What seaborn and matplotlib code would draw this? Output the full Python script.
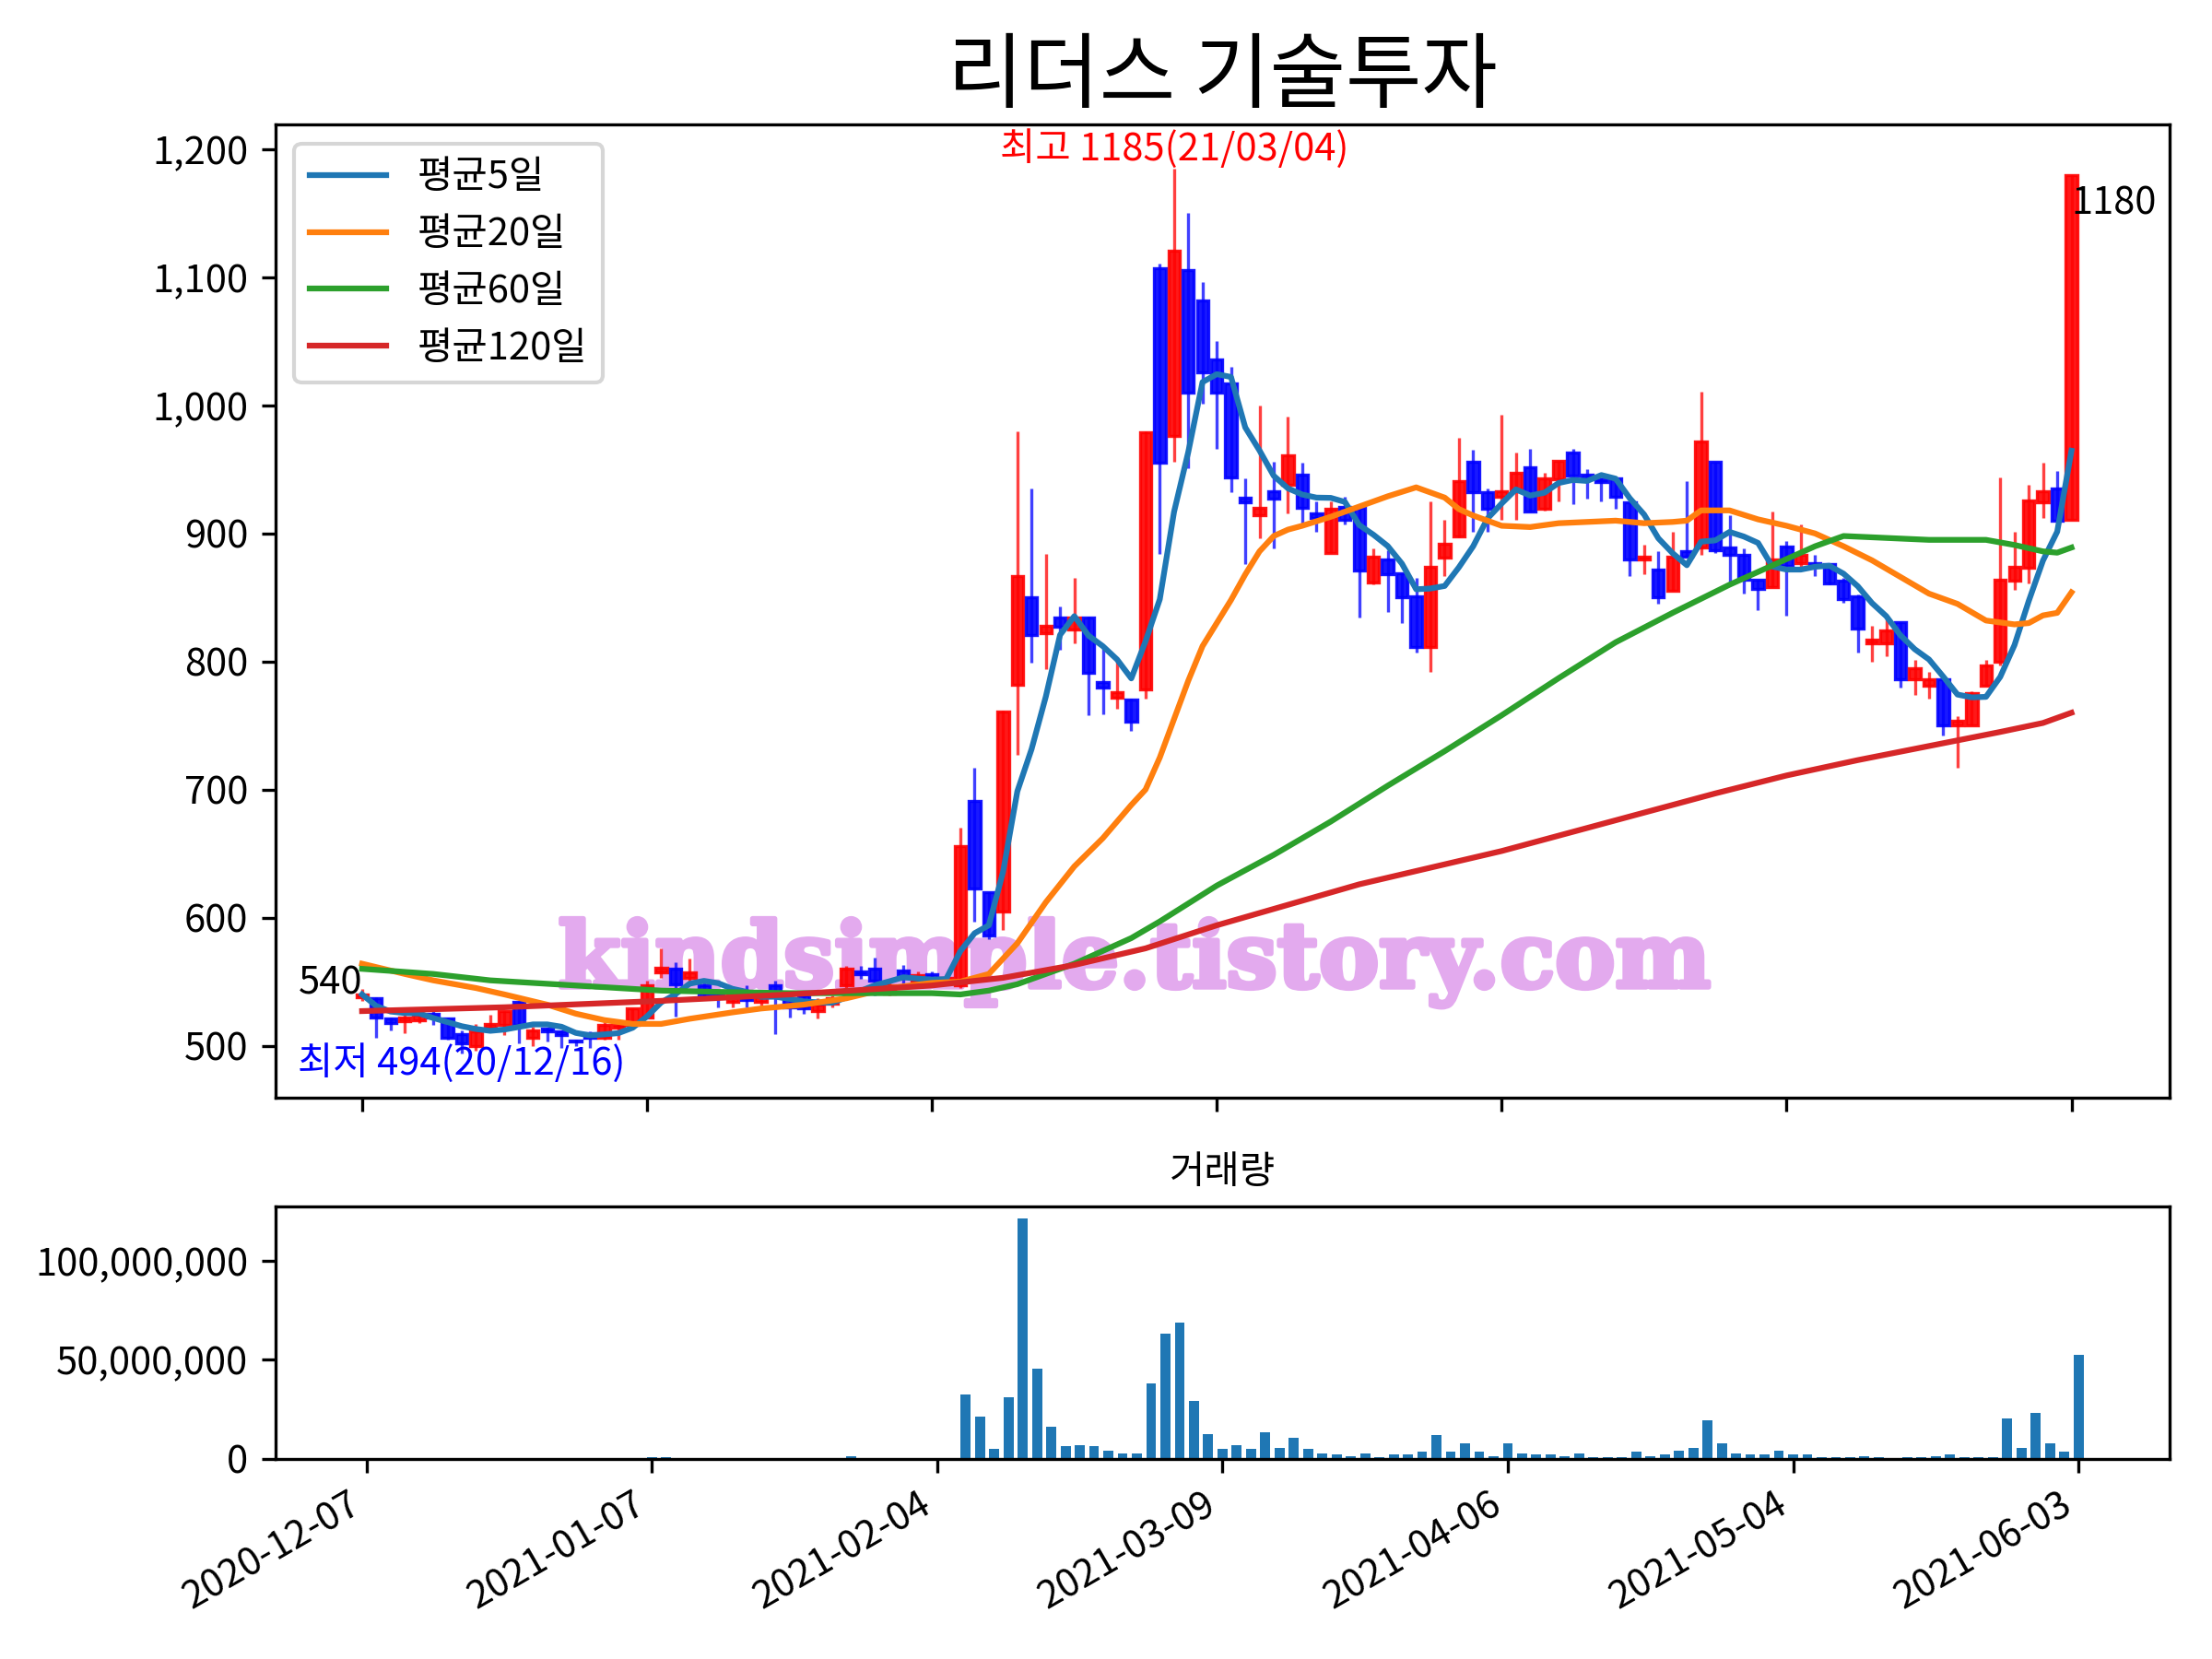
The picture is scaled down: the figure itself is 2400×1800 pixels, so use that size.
import numpy as np
import pandas as pd
import matplotlib
matplotlib.use("Agg")
import matplotlib.pyplot as plt
import matplotlib.patheffects as pe
import seaborn as sns
from matplotlib.ticker import FuncFormatter, MultipleLocator

plt.rcParams['font.family'] = ['Noto Sans CJK KR', 'DejaVu Sans']
plt.rcParams['axes.unicode_minus'] = False

# ---------------- data ----------------
title = "리더스 기술투자"
vol_title = "거래량"
tick_pos = [0, 20, 40, 60, 80, 100, 120]
tick_dates = ["2020-12-07", "2021-01-07", "2021-02-04", "2021-03-09",
              "2021-04-06", "2021-05-04", "2021-06-03"]

opens = [538, 537, 521, 519, 520, 525, 521, 509, 500, 514, 516, 534, 506, 513, 511, 504, 510, 506, 514, 516,
         522, 557, 560, 553, 547, 540, 534, 540, 534, 547, 537, 539, 527, 533, 547, 558, 560, 541, 559, 550,
         556, 550, 547, 691, 620, 605, 782, 850, 822, 834, 825, 834, 784, 772, 770, 778, 1107, 976, 1106, 1082,
         1036, 1017, 928, 914, 933, 938, 946, 916, 885, 921, 920, 862, 880, 869, 851, 811, 881, 898, 956, 932,
         929, 933, 952, 919, 942, 963, 946, 942, 943, 924, 880, 872, 855, 886, 889, 956, 889, 883, 864, 858,
         890, 877, 877, 876, 863, 851, 814, 814, 831, 786, 781, 786, 750, 750, 781, 800, 863, 873, 924, 935,
         911]
highs = [544, 538, 522, 526, 527, 528, 522, 512, 517, 524, 527, 535, 515, 514, 512, 505, 511, 521, 517, 529,
         551, 576, 565, 568, 550, 543, 541, 547, 540, 551, 540, 541, 537, 539, 562, 562, 569, 550, 563, 558,
         558, 556, 670, 717, 620, 762, 980, 935, 884, 843, 865, 835, 810, 800, 771, 980, 1111, 1185, 1150, 1096,
         1050, 1030, 943, 1000, 956, 991, 955, 925, 925, 929, 920, 888, 887, 869, 865, 925, 911, 975, 965, 935,
         993, 963, 966, 947, 957, 966, 950, 944, 943, 924, 891, 886, 901, 941, 1011, 956, 914, 888, 864, 917,
         894, 907, 883, 877, 865, 852, 828, 835, 831, 801, 792, 786, 757, 777, 801, 944, 901, 938, 955, 949,
         1180]
lows = [535, 506, 512, 510, 518, 516, 505, 494, 496, 512, 508, 502, 500, 503, 498, 500, 498, 505, 505, 516,
        521, 553, 523, 550, 538, 530, 530, 530, 531, 509, 522, 525, 521, 530, 545, 552, 539, 539, 548, 548,
        550, 548, 545, 597, 583, 590, 727, 799, 794, 809, 814, 758, 759, 763, 746, 771, 884, 956, 951, 1001,
        966, 932, 876, 896, 888, 916, 908, 901, 885, 907, 834, 860, 839, 830, 807, 792, 867, 897, 901, 901,
        911, 911, 917, 918, 925, 923, 927, 925, 919, 867, 868, 845, 855, 882, 883, 885, 861, 853, 840, 858,
        836, 874, 867, 860, 846, 807, 800, 804, 780, 774, 771, 742, 717, 750, 781, 797, 856, 861, 912, 910,
        911]
closes = [540, 522, 518, 522, 524, 522, 506, 502, 511, 517, 527, 516, 512, 511, 508, 503, 506, 516, 516, 529,
          547, 561, 548, 557, 540, 538, 539, 536, 538, 540, 530, 529, 532, 537, 560, 556, 551, 547, 553, 555,
          552, 553, 656, 623, 586, 761, 867, 821, 828, 827, 834, 791, 780, 776, 753, 979, 955, 1121, 1010, 1026,
          1010, 944, 924, 920, 927, 961, 920, 912, 919, 911, 871, 882, 868, 850, 811, 874, 892, 941, 932, 919,
          933, 947, 917, 943, 957, 945, 943, 940, 929, 880, 882, 850, 882, 882, 972, 887, 883, 864, 857, 880,
          875, 883, 875, 861, 849, 826, 817, 824, 786, 795, 786, 750, 754, 775, 797, 864, 874, 926, 933, 910,
          1180]
volumes_m = [0.2, 0.2, 0.2, 0.2, 0.2, 0.2, 0.2, 0.2, 0.2, 0.2, 0.2, 0.2, 0.2, 0.2, 0.2, 0.2, 0.2, 0.2, 0.2, 0.2,
             0.6, 0.6, 0.2, 0.2, 0.2, 0.2, 0.2, 0.2, 0.2, 0.2, 0.2, 0.2, 0.2, 0.2, 1.0, 0.2, 0.2, 0.2, 0.2, 0.2,
             0.2, 0.2, 32.4, 21.2, 5.1, 31.3, 121.8, 45.7, 16.0, 6.1, 6.7, 6.1, 4.2, 2.5, 2.5, 38.0, 63.2, 69.1, 29.4, 12.6,
             4.7, 7.0, 5.1, 13.5, 5.6, 10.7, 4.7, 2.8, 1.9, 1.4, 2.8, 0.9, 1.9, 2.3, 3.7, 11.7, 3.3, 7.5, 3.3, 1.4,
             7.9, 2.8, 1.9, 1.9, 1.4, 2.8, 0.9, 0.9, 0.5, 3.7, 1.4, 2.3, 4.2, 5.6, 19.6, 7.5, 2.8, 2.3, 1.9, 4.2,
             1.9, 1.9, 0.5, 0.5, 0.5, 1.4, 0.9, 0.3, 0.9, 0.5, 1.4, 1.9, 0.9, 0.5, 0.9, 20.5, 5.6, 23.3, 7.9, 3.3,
             52.7]

# moving averages (index, value)
ma20_idx = [0, 3, 5, 8, 10, 13, 15, 17, 19, 21, 23, 26, 28, 31, 34, 37, 40, 42, 44, 46, 48, 50, 52, 54, 55,
            56, 57, 58, 59, 60, 61, 62, 63, 64, 65, 66, 68, 70, 72, 74, 75, 76, 77, 78, 80, 82, 84, 86, 88, 90,
            92, 93, 94, 96, 98, 100, 102, 104, 106, 108, 110, 112, 114, 116, 117, 118, 119, 120]
ma20_val = [564, 556, 551, 545, 540, 532, 525, 520, 517, 517, 521, 526, 529, 532, 537, 545, 549, 550, 556, 580,
            612, 640, 662, 688, 700, 725, 755, 785, 812, 830, 848, 868, 886, 898, 903, 906, 913, 921, 929, 936,
            932, 928, 919, 914, 906, 905, 908, 909, 910, 908, 909, 910, 918, 918, 911, 906, 900, 890, 879, 866,
            853, 845, 832, 829, 830, 836, 838, 854]
ma60_idx = [0, 5, 9, 15, 21, 25, 30, 35, 40, 42, 44, 46, 48, 50, 52, 54, 56, 58, 60, 64, 68, 72, 76, 80,
            84, 88, 92, 96, 100, 102, 104, 106, 108, 110, 112, 114, 116, 118, 119, 120]
ma60_val = [560, 556, 551, 547, 543, 542, 541, 541, 541, 540, 543, 548, 556, 564, 574, 584, 597, 611, 625, 649,
            675, 703, 730, 758, 787, 815, 838, 860, 880, 890, 898, 897, 896, 895, 895,
            895, 891, 886, 885, 889]
ma120_idx = [0, 10, 21, 30, 40, 45, 50, 55, 60, 65, 70, 75, 80, 85, 90, 95, 100, 105, 110, 115, 118, 120]
ma120_val = [527, 530, 535, 540, 547, 553, 563, 576, 594, 610, 626, 639, 652, 667, 682, 697, 711, 723, 734, 745,
             752, 760]

low_label = "최저 494(20/12/16)"
high_label = "최고 1185(21/03/04)"
watermark = "kindsimple.tistory.com"

# ---------------- figure ----------------
o = np.array(opens, float)
h = np.array(highs, float)
l = np.array(lows, float)
c = np.array(closes, float)
x = np.arange(len(c))
ma5 = pd.Series(c).rolling(5, min_periods=1).mean().values

fig = plt.figure(figsize=(8, 6), dpi=300)
ax = fig.add_axes([0.1244, 0.3384, 0.8565, 0.5867])
ax2 = fig.add_axes([0.1244, 0.1208, 0.8565, 0.1522])

up = c >= o
cols = np.where(up, '#ff0000', '#0000ff')
ax.vlines(x, l, h, colors=cols, linewidth=0.8, alpha=0.75, zorder=3)
ax.bar(x, np.abs(c - o), bottom=np.minimum(o, c), width=0.8, color=cols,
       edgecolor=cols, linewidth=0.8, alpha=0.9, zorder=3)

ma_df = pd.DataFrame({'x': x, 'y': ma5})
sns.lineplot(data=ma_df, x='x', y='y', ax=ax, color='#1f77b4', linewidth=1.5, label='평균5일', zorder=4)
sns.lineplot(x=ma20_idx, y=ma20_val, ax=ax, color='#ff7f0e', linewidth=1.5, label='평균20일', zorder=4)
sns.lineplot(x=ma60_idx, y=ma60_val, ax=ax, color='#2ca02c', linewidth=1.5, label='평균60일', zorder=4)
sns.lineplot(x=ma120_idx, y=ma120_val, ax=ax, color='#d62728', linewidth=1.5, label='평균120일', zorder=4)

ax.legend(loc='upper left', fontsize=10, labelspacing=0.5, handlelength=2.0)

# annotations
imin = int(np.argmin(l))
imax = int(np.argmax(h))
ax.annotate(low_label, xy=(imin, l[imin]), xytext=(0, 2.5), textcoords='offset points',
            ha='center', va='top', color='blue', fontsize=10)
ax.text(imax, h[imax], high_label, ha='center', va='bottom', color='red', fontsize=10)
ax.text(x[0], c[0], f"{int(c[0])}", ha='right', va='baseline', color='black', fontsize=10)
ax.annotate(f"{int(c[-1])}", xy=(x[-1], c[-1]), xytext=(0, -2.5), textcoords='offset points',
            ha='left', va='top', color='black', fontsize=10)

ax.text(0.5128, 0.405, watermark, transform=fig.transFigure, ha='center', va='baseline',
        fontsize=23.5, fontweight='heavy', family='DejaVu Serif', color='#e3aaee', zorder=1,
        path_effects=[pe.withStroke(linewidth=1.3, foreground='#e3aaee')])

ax.set_xlim(-6.1, 126.9)
ax.yaxis.set_major_locator(MultipleLocator(100))
ax.yaxis.set_major_formatter(FuncFormatter(lambda v, p: f"{v:,.0f}"))
ax.set_xticks(tick_pos)
ax.tick_params(labelbottom=False)
ax.set_xlabel('')
ax.set_ylabel('')
ax.set_title(title, fontsize=21.5)

# volume
ax2.bar(x, np.array(volumes_m) * 1e6, width=0.7, color='#1f77b4')
ax2.set_xlim(-6.4, 126.4)
ax2.set_xticks(tick_pos)
ax2.set_xticklabels(tick_dates, rotation=30, ha='right')
ax2.yaxis.set_major_locator(MultipleLocator(5e7))
ax2.yaxis.set_major_formatter(FuncFormatter(lambda v, p: f"{v:,.0f}"))
ax2.set_title(vol_title, fontsize=10)

fig.savefig('out.png', dpi=300)
